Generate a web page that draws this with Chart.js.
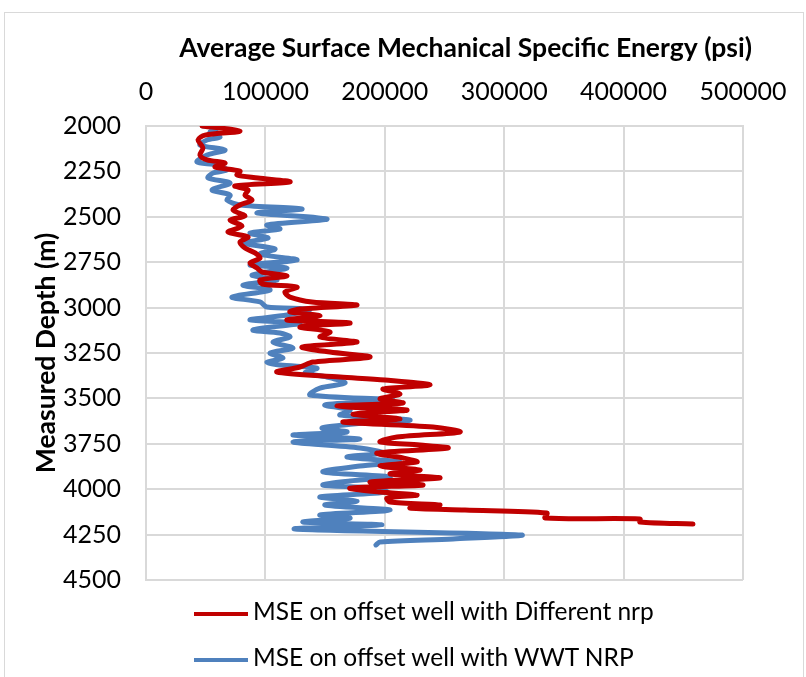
<!DOCTYPE html>
<html>
<head>
<meta charset="utf-8">
<script src="https://cdn.jsdelivr.net/npm/chart.js@4.4.1/dist/chart.umd.min.js"></script>
<style>
  body { margin: 0; background: #fff; }
  #wrap { position: relative; width: 806px; height: 677px; overflow: hidden; background: #fff; }
  #frame { position: absolute; left: 4px; top: 12px; width: 798px; height: 720px; border: 1px solid #D9D9D9; }
  #chart { position: absolute; left: 0; top: 0; }
  .leg { position: absolute; left: 194px; font-family: Lato, sans-serif; font-size: 24.5px; color: #000; white-space: nowrap; }
  .leg span { display: inline-block; width: 54px; height: 4px; vertical-align: middle; margin-right: 5px; }
</style>
</head>
<body>
<div id="wrap">
  <div id="frame"></div>
  <canvas id="chart" width="806" height="677"></canvas>
  <div class="leg" id="leg0" style="top:596px"></div>
  <div class="leg" id="leg1" style="top:642px"></div>
</div>
<script>
// series names and colours
const seriesNames = ['MSE on offset well with Different nrp', 'MSE on offset well with WWT NRP'];
const seriesColors = ['#C00000', '#4F81BD'];

// red series: measured depth (m) and MSE (psi)
const redDepth = [2000, 2028, 2050, 2077, 2121, 2160, 2187, 2204, 2226, 2248, 2270, 2286, 2308, 2330, 2352, 2380, 2408, 2435, 2463, 2496,
  2518, 2551, 2584, 2611, 2639, 2672, 2699, 2727, 2754, 2782, 2804, 2826, 2848, 2870, 2887, 2914, 2942, 2969, 2986, 3008,
  3024, 3046, 3068, 3085, 3107, 3134, 3162, 3190, 3217, 3245, 3272, 3300, 3327, 3355, 3382, 3399, 3426, 3448, 3476, 3503,
  3525, 3542, 3564, 3586, 3614, 3630, 3658, 3685, 3713, 3740, 3757, 3773, 3801, 3828, 3850, 3872, 3894, 3916, 3938, 3960,
  3977, 3994, 4016, 4032, 4049, 4071, 4087, 4104, 4115, 4131, 4159, 4164, 4181, 4192];
const redMse = [47000, 78700, 49400, 43600, 47700, 45200, 51100, 66200, 57800, 78700, 76200, 93800, 120600, 74500, 85400, 82900, 88800, 78700, 72900, 82900,
  70400, 80400, 68700, 85400, 78700, 82900, 91300, 95500, 87100, 93000, 97200, 118100, 95500, 97200, 126500, 116400, 120600, 139000, 176700, 129000,
  120600, 145700, 118100, 170900, 129000, 154100, 145700, 176700, 130700, 154100, 187600, 139900, 129000, 109700, 162500, 200200, 237900, 198500, 212700, 196000,
  215200, 160000, 218600, 173400, 212700, 165000, 240400, 263000, 210200, 196000, 229500, 252900, 193500, 215200, 227000, 196000, 229500, 204400, 246200, 187600,
  232000, 170900, 196000, 227000, 201800, 204400, 246200, 221100, 267200, 335800, 334200, 413700, 413700, 458100];

// blue series: measured depth (m) and MSE (psi)
const blueDepth = [2000, 2011, 2033, 2061, 2077, 2105, 2132, 2160, 2198, 2215, 2242, 2259, 2286, 2314, 2352, 2380, 2408, 2435, 2457, 2479,
  2512, 2545, 2567, 2589, 2617, 2644, 2677, 2705, 2738, 2765, 2782, 2821, 2848, 2876, 2903, 2942, 2969, 2997, 3008, 3041,
  3068, 3085, 3123, 3140, 3162, 3190, 3223, 3250, 3278, 3300, 3316, 3333, 3360, 3382, 3415, 3443, 3481, 3509, 3536, 3564,
  3592, 3619, 3636, 3663, 3685, 3702, 3724, 3740, 3773, 3801, 3823, 3850, 3872, 3905, 3933, 3955, 3977, 3994, 4016, 4043,
  4065, 4087, 4115, 4142, 4159, 4181, 4197, 4219, 4252, 4274, 4291, 4307];
const blueMse = [47700, 59500, 53600, 62000, 51100, 45200, 66200, 51100, 42700, 59500, 67800, 56100, 51900, 70400, 55300, 70400, 67800, 78700, 130700, 93000,
  151600, 101300, 112200, 87100, 102200, 81200, 108000, 95500, 126500, 87100, 118100, 88800, 109700, 81200, 103900, 72000, 95500, 101300, 137400, 118100,
  87100, 129000, 89600, 112200, 120600, 106400, 123100, 103900, 114700, 101300, 112200, 143200, 133200, 151600, 166700, 145700, 137400, 206900, 149900, 170900,
  162500, 221100, 181700, 147400, 168300, 123100, 179200, 123100, 179200, 198500, 168300, 212700, 179200, 148200, 204400, 170900, 148200, 191800, 201800, 145700,
  176700, 149900, 204400, 145700, 170900, 131500, 197600, 124800, 314100, 257100, 196000, 192600];

// axes
const xMin = 0, xMax = 500000, xStep = 100000;
const yMin = 2000, yMax = 4500, yStep = 250;
const xTitle = 'Average Surface Mechanical Specific Energy (psi)';
const yTitle = 'Measured Depth (m)';

const gridColor = '#D9D9D9';
const tickFont = { family: 'Lato', size: 25 };
const titleFont = { family: 'Lato', size: 26.5, weight: 'bold' };

function toPoints(depths, values) {
  return depths.map((d, i) => ({ x: values[i], y: d }));
}

function injectLegend() {
  seriesNames.forEach((name, i) => {
    const el = document.querySelector('#leg' + i);
    el.innerHTML = '<span style="background:' + seriesColors[i] + '"></span>' + name;
  });
}

// x axis title sits a bit right of the plot centre in the original, so draw it by hand
const topTitle = {
  id: 'topTitle',
  afterDraw(chart) {
    const { ctx, chartArea } = chart;
    ctx.save();
    ctx.font = 'bold ' + titleFont.size + 'px ' + titleFont.family;
    ctx.fillStyle = '#000';
    ctx.textAlign = 'right';
    ctx.textBaseline = 'middle';
    ctx.fillText(xTitle, chartArea.right + 9, 48);
    ctx.restore();
  }
};

function initChart(canvas) {
  const data = {
    datasets: [
      { label: seriesNames[0], data: toPoints(redDepth, redMse) },
      { label: seriesNames[1], data: toPoints(blueDepth, blueMse) }
    ].map((set, i) => ({
      ...set,
      showLine: true,
      borderColor: seriesColors[i],
      backgroundColor: seriesColors[i],
      borderWidth: 5,
      pointRadius: 0,
      tension: 0.3,
      borderCapStyle: 'round',
      borderJoinStyle: 'round'
    }))
  };

  return new Chart(canvas, {
    type: 'scatter',
    data: data,
    plugins: [topTitle],
    options: {
      responsive: false,
      animation: false,
      events: [],
      layout: { padding: { top: 30, left: 29, right: 63, bottom: 97 } },
      plugins: { legend: { display: false }, tooltip: { enabled: false } },
      scales: {
        x: {
          type: 'linear',
          position: 'top',
          min: xMin,
          max: xMax,
          ticks: { stepSize: xStep, padding: 19, color: '#000', font: tickFont, maxRotation: 0, callback: (v) => String(v) },
          grid: { color: gridColor, lineWidth: 2, drawTicks: false },
          border: { color: gridColor, width: 2 },
          afterFit: (scale) => { scale.height = 96; }
        },
        y: {
          type: 'linear',
          reverse: true,
          min: yMin,
          max: yMax,
          ticks: { stepSize: yStep, padding: 25, color: '#000', font: tickFont, callback: (v) => String(v) },
          grid: { color: gridColor, lineWidth: 2, drawTicks: false },
          border: { color: gridColor, width: 2 },
          title: { display: true, text: yTitle, color: '#000', font: titleFont, padding: { top: 2, bottom: 0 } },
          afterFit: (scale) => { scale.width = 117; }
        }
      }
    }
  });
}

async function mainEvent() {
  try { await document.fonts.load('bold 26px Lato'); await document.fonts.load('25px Lato'); } catch (e) { /* system font */ }
  injectLegend();
  initChart(document.querySelector('#chart'));
}

document.addEventListener('DOMContentLoaded', async () => mainEvent());
</script>
</body>
</html>
